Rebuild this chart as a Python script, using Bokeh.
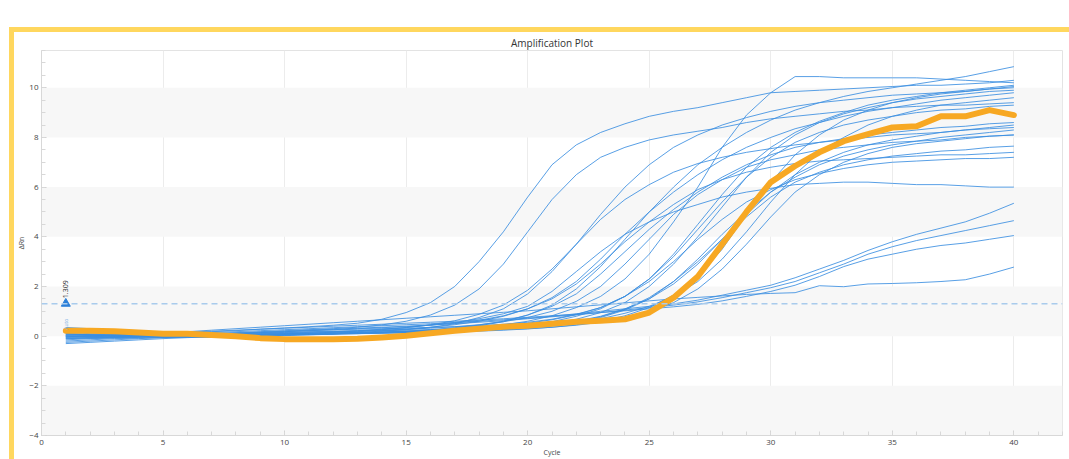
import math
from bokeh.plotting import figure
from bokeh.models import Range1d, BoxAnnotation, Span, FixedTicker
from bokeh.layouts import column
from bokeh.core.properties import value
from bokeh.embed import file_html
from bokeh.resources import INLINE

# ---------------- data ----------------
cycles = list(range(1, 41))

orange_curve = [0.22, 0.22, 0.20, 0.15, 0.10, 0.10, 0.05, 0.00, -0.08, -0.12,
                -0.12, -0.12, -0.10, -0.05, 0.02, 0.12, 0.22, 0.30, 0.38, 0.42,
                0.50, 0.58, 0.62, 0.68, 0.95, 1.55, 2.40, 3.70, 5.00, 6.20,
                6.85, 7.40, 7.85, 8.13, 8.40, 8.45, 8.85, 8.85, 9.10, 8.90]

blue_curves = [
    [0.10, 0.05, 0.05, 0.05, 0.08, 0.12, 0.18, 0.22, 0.28, 0.33, 0.38, 0.44, 0.52, 0.68, 0.95, 1.35, 2.0, 3.0, 4.2, 5.6,
     6.9, 7.7, 8.2, 8.55, 8.85, 9.05, 9.2, 9.4, 9.6, 9.8, 9.85, 9.9, 9.95, 10.0, 10.05, 10.1, 10.1, 10.15, 10.2, 10.3],
    [-0.05, -0.02, 0.0, 0.02, 0.05, 0.08, 0.1, 0.14, 0.18, 0.22, 0.26, 0.3, 0.36, 0.45, 0.6, 0.85, 1.25, 1.9, 2.9, 4.2,
     5.5, 6.5, 7.2, 7.6, 7.9, 8.1, 8.25, 8.4, 8.6, 8.75, 8.85, 8.95, 9.05, 9.1, 9.2, 9.25, 9.3, 9.3, 9.35, 9.4],
    [0.3, 0.2, 0.1, 0.05, 0.02, 0.0, 0.0, 0.02, 0.05, 0.08, 0.1, 0.12, 0.15, 0.2, 0.26, 0.35, 0.5, 0.75, 1.1, 1.7,
     2.6, 3.7, 4.9, 6.0, 6.9, 7.6, 8.1, 8.5, 8.8, 9.05, 9.25, 9.4, 9.5, 9.6, 9.7, 9.75, 9.8, 9.85, 9.95, 10.05],
    [0.0, -0.05, -0.05, -0.02, 0.0, 0.02, 0.05, 0.08, 0.1, 0.12, 0.15, 0.18, 0.22, 0.28, 0.35, 0.45, 0.55, 0.7, 0.9, 1.2,
     1.8, 2.6, 3.4, 4.1, 4.6, 5.0, 5.3, 5.6, 5.8, 5.95, 6.1, 6.15, 6.2, 6.2, 6.15, 6.1, 6.1, 6.05, 6.0, 6.0],
    [-0.2, -0.15, -0.1, -0.08, -0.05, -0.02, 0.0, 0.02, 0.05, 0.08, 0.12, 0.16, 0.2, 0.26, 0.34, 0.45, 0.62, 0.88, 1.25, 1.85,
     2.7, 3.7, 4.7, 5.5, 6.1, 6.6, 6.95, 7.2, 7.4, 7.55, 7.7, 7.8, 7.9, 8.0, 8.1, 8.15, 8.2, 8.3, 8.35, 8.4],
    [0.1, 0.05, 0.0, -0.02, -0.05, -0.05, -0.05, -0.03, 0.0, 0.02, 0.05, 0.08, 0.1, 0.14, 0.18, 0.24, 0.32, 0.42, 0.58, 0.85,
     1.25, 1.9, 2.8, 3.9, 5.0, 6.0, 6.9, 7.6, 8.2, 8.7, 9.1, 9.4, 9.65, 9.85, 10.0, 10.15, 10.3, 10.45, 10.65, 10.85],
    [-0.1, -0.08, -0.05, -0.03, 0.0, 0.0, 0.0, 0.02, 0.04, 0.06, 0.08, 0.1, 0.12, 0.15, 0.18, 0.22, 0.28, 0.35, 0.45, 0.6,
     0.82, 1.15, 1.6, 2.3, 3.3, 4.6, 6.0, 7.6, 8.9, 9.8, 10.45, 10.45, 10.4, 10.4, 10.4, 10.4, 10.35, 10.3, 10.25, 10.2],
    [0.2, 0.15, 0.1, 0.08, 0.05, 0.05, 0.05, 0.06, 0.08, 0.1, 0.12, 0.15, 0.18, 0.22, 0.28, 0.36, 0.46, 0.6, 0.8, 1.1,
     1.55, 2.2, 3.1, 4.1, 5.0, 5.8, 6.5, 7.1, 7.6, 8.0, 8.35, 8.6, 8.85, 9.05, 9.2, 9.35, 9.5, 9.6, 9.7, 9.8],
    [-0.25, -0.2, -0.15, -0.1, -0.06, -0.04, -0.02, 0.0, 0.02, 0.05, 0.08, 0.1, 0.13, 0.16, 0.2, 0.26, 0.34, 0.45, 0.6, 0.85,
     1.2, 1.7, 2.5, 3.4, 4.3, 5.1, 5.8, 6.4, 6.9, 7.3, 7.6, 7.8, 7.95, 8.1, 8.2, 8.3, 8.4, 8.45, 8.55, 8.6],
    [0.0, 0.0, 0.02, 0.03, 0.05, 0.06, 0.08, 0.1, 0.12, 0.15, 0.18, 0.2, 0.22, 0.25, 0.28, 0.32, 0.38, 0.46, 0.58, 0.75,
     1.0, 1.4, 2.0, 2.9, 3.9, 4.9, 5.7, 6.3, 6.8, 7.1, 7.3, 7.5, 7.6, 7.7, 7.8, 7.85, 7.9, 8.0, 8.05, 8.1],
    [0.05, 0.02, 0.0, 0.0, 0.02, 0.04, 0.06, 0.1, 0.14, 0.18, 0.22, 0.26, 0.3, 0.34, 0.38, 0.44, 0.52, 0.64, 0.82, 1.1,
     1.5, 2.1, 2.9, 3.8, 4.6, 5.3, 5.9, 6.3, 6.6, 6.8, 6.95, 7.05, 7.1, 7.15, 7.2, 7.25, 7.3, 7.3, 7.35, 7.4],
    [0.15, 0.1, 0.08, 0.05, 0.05, 0.05, 0.05, 0.06, 0.07, 0.08, 0.1, 0.11, 0.12, 0.14, 0.16, 0.18, 0.22, 0.27, 0.34, 0.44,
     0.58, 0.8, 1.1, 1.6, 2.3, 3.3, 4.5, 5.7, 6.8, 7.6, 8.2, 8.65, 9.0, 9.3, 9.5, 9.65, 9.8, 9.9, 10.0, 10.1],
    [-0.15, -0.1, -0.08, -0.05, -0.03, -0.02, 0.0, 0.0, 0.02, 0.04, 0.06, 0.08, 0.1, 0.12, 0.14, 0.17, 0.2, 0.25, 0.3, 0.38,
     0.5, 0.68, 0.95, 1.35, 2.0, 2.9, 4.0, 5.2, 6.4, 7.4, 8.1, 8.6, 8.95, 9.2, 9.4, 9.55, 9.65, 9.75, 9.85, 9.9],
    [0.3, 0.25, 0.2, 0.15, 0.12, 0.1, 0.1, 0.12, 0.15, 0.18, 0.22, 0.25, 0.28, 0.3, 0.32, 0.35, 0.38, 0.42, 0.48, 0.56,
     0.68, 0.88, 1.15, 1.6, 2.3, 3.2, 4.3, 5.4, 6.4, 7.2, 7.8, 8.2, 8.5, 8.7, 8.85, 9.0, 9.1, 9.15, 9.25, 9.3],
    [-0.05, -0.05, -0.03, -0.02, 0.0, 0.0, 0.0, 0.02, 0.04, 0.06, 0.08, 0.1, 0.12, 0.14, 0.16, 0.18, 0.2, 0.24, 0.28, 0.34,
     0.42, 0.55, 0.75, 1.05, 1.5, 2.2, 3.1, 4.1, 5.0, 5.8, 6.4, 6.9, 7.25, 7.5, 7.7, 7.85, 8.0, 8.1, 8.2, 8.3],
    [0.1, 0.05, 0.02, 0.0, 0.0, 0.0, 0.02, 0.04, 0.06, 0.08, 0.1, 0.12, 0.14, 0.16, 0.18, 0.2, 0.23, 0.27, 0.32, 0.38,
     0.46, 0.58, 0.78, 1.08, 1.55, 2.2, 3.0, 3.9, 4.8, 5.6, 6.2, 6.6, 6.9, 7.1, 7.25, 7.35, 7.45, 7.5, 7.6, 7.65],
    [-0.3, -0.25, -0.2, -0.15, -0.1, -0.06, -0.03, 0.0, 0.02, 0.05, 0.08, 0.1, 0.13, 0.16, 0.2, 0.24, 0.28, 0.34, 0.42, 0.52,
     0.66, 0.86, 1.15, 1.6, 2.2, 3.0, 3.9, 4.7, 5.4, 5.9, 6.3, 6.55, 6.75, 6.9, 7.0, 7.05, 7.1, 7.15, 7.15, 7.2],
    [0.05, 0.05, 0.05, 0.05, 0.05, 0.05, 0.05, 0.06, 0.07, 0.08, 0.09, 0.1, 0.11, 0.12, 0.13, 0.15, 0.17, 0.2, 0.24, 0.29,
     0.36, 0.46, 0.6, 0.82, 1.15, 1.65, 2.4, 3.5, 4.9, 6.2, 7.3, 8.1, 8.7, 9.1, 9.4, 9.6, 9.75, 9.85, 9.95, 10.0],
    [0.25, 0.2, 0.15, 0.1, 0.08, 0.06, 0.05, 0.05, 0.06, 0.08, 0.1, 0.12, 0.14, 0.16, 0.18, 0.2, 0.22, 0.26, 0.3, 0.36,
     0.44, 0.55, 0.7, 0.92, 1.2, 1.6, 2.2, 3.1, 4.2, 5.4, 6.5, 7.4, 8.0, 8.5, 8.85, 9.1, 9.3, 9.4, 9.5, 9.6],
    [0.0, -0.02, -0.03, -0.03, -0.02, 0.0, 0.0, 0.02, 0.04, 0.06, 0.08, 0.1, 0.12, 0.14, 0.16, 0.18, 0.2, 0.23, 0.26, 0.3,
     0.36, 0.44, 0.56, 0.74, 1.0, 1.35, 1.9, 2.7, 3.7, 4.8, 5.8, 6.5, 7.0, 7.35, 7.6, 7.75, 7.85, 7.95, 8.05, 8.1],
    [0.35, 0.3, 0.25, 0.2, 0.15, 0.12, 0.1, 0.1, 0.12, 0.14, 0.16, 0.18, 0.2, 0.22, 0.24, 0.26, 0.28, 0.3, 0.34, 0.4,
     0.48, 0.6, 0.8, 1.1, 1.5, 2.1, 2.9, 3.9, 4.9, 5.8, 6.5, 7.0, 7.4, 7.7, 7.9, 8.05, 8.2, 8.3, 8.4, 8.5],
    [0.0, 0.0, 0.02, 0.04, 0.06, 0.1, 0.14, 0.18, 0.22, 0.26, 0.3, 0.34, 0.38, 0.42, 0.46, 0.5, 0.55, 0.6, 0.66, 0.72,
     0.8, 0.9, 1.0, 1.1, 1.2, 1.3, 1.45, 1.65, 1.85, 2.05, 2.35, 2.7, 3.05, 3.45, 3.8, 4.1, 4.35, 4.6, 4.95, 5.35],
    [-0.1, -0.08, -0.05, -0.02, 0.0, 0.04, 0.08, 0.12, 0.16, 0.2, 0.24, 0.28, 0.32, 0.36, 0.4, 0.45, 0.5, 0.56, 0.62, 0.7,
     0.78, 0.86, 0.95, 1.05, 1.15, 1.25, 1.38, 1.55, 1.75, 1.95, 2.2, 2.55, 2.9, 3.3, 3.6, 3.85, 4.05, 4.25, 4.45, 4.65],
    [0.2, 0.18, 0.16, 0.14, 0.14, 0.16, 0.2, 0.24, 0.28, 0.32, 0.36, 0.4, 0.44, 0.48, 0.52, 0.56, 0.6, 0.65, 0.7, 0.76,
     0.82, 0.88, 0.95, 1.02, 1.1, 1.18, 1.28, 1.42, 1.6, 1.8, 2.05, 2.4, 2.8, 3.1, 3.3, 3.5, 3.65, 3.75, 3.9, 4.05],
    [0.05, 0.05, 0.06, 0.08, 0.12, 0.18, 0.24, 0.3, 0.36, 0.42, 0.48, 0.54, 0.6, 0.66, 0.72, 0.78, 0.84, 0.9, 0.96, 1.02,
     1.1, 1.18, 1.26, 1.34, 1.42, 1.5, 1.56, 1.62, 1.68, 1.72, 1.75, 2.03, 1.99, 2.1, 2.12, 2.15, 2.2, 2.27, 2.5, 2.78],
]

threshold_value = 1.309
threshold_cycle = 1
x_ticks = [0, 5, 10, 15, 20, 25, 30, 35, 40]
x_minor_ticks = list(range(0, 43))
y_ticks = [-4, -2, 0, 2, 4, 6, 8, 10]
y_minor_ticks = [v / 2 for v in range(-8, 24)]
band_ranges = [(-4, -2), (0, 2), (4, 6), (8, 10)]

# ---------------- figure ----------------
p = figure(width=1055, height=427, output_backend="svg", toolbar_location=None,
           x_range=Range1d(0, 42), y_range=Range1d(-4, 11.5),
           min_border_left=26, min_border_right=7, min_border_top=18, min_border_bottom=19,
           title="Amplification Plot")
p.title.align = "center"
p.title.text_font = "Open Sans"
p.title.text_font_size = "10px"
p.title.text_font_style = "normal"
p.title.text_color = "#333333"
p.title.offset = 0
p.title.standoff = 2

p.background_fill_color = "white"
p.border_fill_color = "white"
p.outline_line_color = "#e3e3e3"

for lo, hi in band_ranges:
    p.add_layout(BoxAnnotation(bottom=lo, top=hi, fill_color="#f7f7f7", fill_alpha=1.0,
                               line_color=None, level="underlay"))

p.xgrid.ticker = FixedTicker(ticks=x_ticks)
p.xgrid.grid_line_color = "#ececec"
p.xgrid.grid_line_width = 1
p.ygrid.grid_line_color = None

p.xaxis.ticker = FixedTicker(ticks=x_ticks, minor_ticks=x_minor_ticks)
p.yaxis.ticker = FixedTicker(ticks=y_ticks, minor_ticks=y_minor_ticks)
p.xaxis.axis_label = "Cycle"
p.yaxis.axis_label = "ΔRn"
for ax in (p.xaxis, p.yaxis):
    ax.axis_line_color = "#d8d8d8"
    ax.major_tick_line_color = "#d0d0d0"
    ax.minor_tick_line_color = "#d8d8d8"
    ax.major_tick_in = 5
    ax.major_tick_out = 0
    ax.minor_tick_in = 4
    ax.minor_tick_out = 0
    ax.major_label_text_font = "Open Sans"
    ax.major_label_text_font_size = "8px"
    ax.major_label_text_color = "#444444"
    ax.axis_label_text_font = "Open Sans"
    ax.axis_label_text_font_size = "7px"
    ax.axis_label_text_font_style = "normal"
    ax.axis_label_text_color = "#444444"
p.xaxis.major_label_standoff = 4
p.xaxis.axis_label_standoff = 0
p.yaxis.major_label_standoff = 3
p.yaxis.axis_label_standoff = 0

# threshold line
p.add_layout(Span(location=threshold_value, dimension="width", line_color="#a9cbec",
                  line_width=1.5, line_dash="6 4"))

# blue curves
for curve in blue_curves:
    p.line(cycles, curve, line_color="#3b8ee0", line_width=1, line_alpha=0.85)

# highlighted curve
p.line(cycles, orange_curve, line_color="#F7A823", line_width=6,
       line_join="round", line_cap="round")

# threshold marker + labels
p.scatter([threshold_cycle], [threshold_value], marker="triangle", size=9,
          fill_color="#2b7fd8", line_color="#2b7fd8")
p.text([threshold_cycle], [threshold_value + 0.22], text=["1.309"], angle=math.pi / 2,
       text_font=value("Open Sans"), text_font_size="7px", text_color="#333333",
       text_align="left", text_baseline="middle")
p.text([threshold_cycle], [threshold_value - 1.05], text=["Auto"], angle=math.pi / 2,
       text_font=value("Open Sans"), text_font_size="5px", text_color="#7fb2e5",
       text_align="left", text_baseline="middle")

layout = column(p, margin=(27, 0, 0, 9),
                styles={"border-top": "5px solid #FFD75E", "border-left": "5px solid #FFD75E"})

open("out.html", "w").write(file_html(layout, INLINE))
